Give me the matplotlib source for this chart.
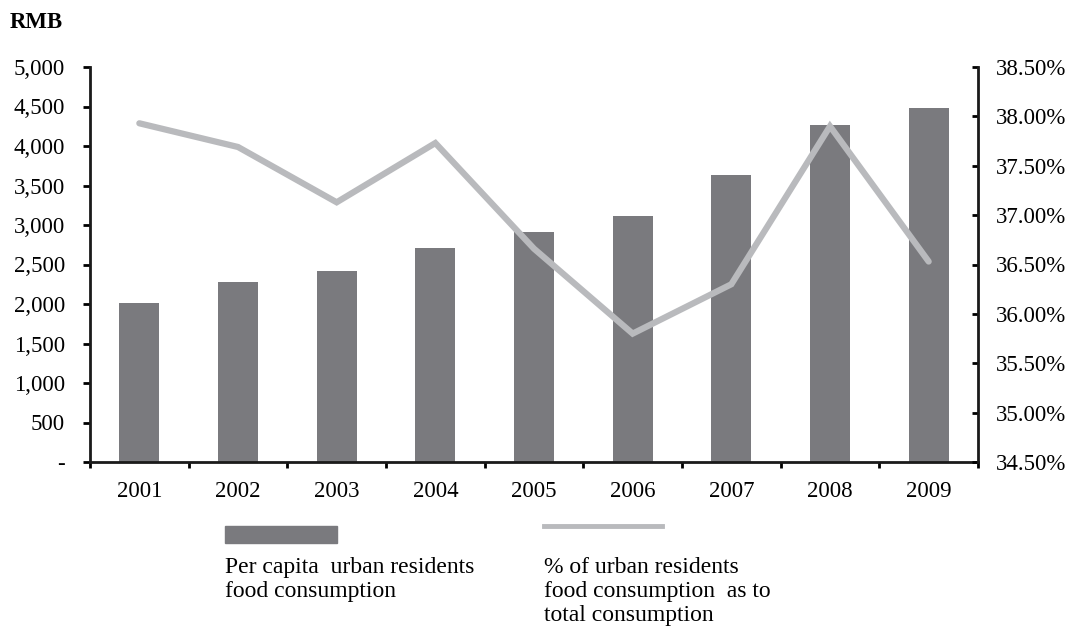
import matplotlib.pyplot as plt
from matplotlib.patches import Rectangle
from matplotlib.lines import Line2D

years = ["2001", "2002", "2003", "2004", "2005", "2006", "2007", "2008", "2009"]
food_rmb = [2018, 2280, 2420, 2712, 2910, 3115, 3630, 4262, 4480]
food_share = [37.93, 37.69, 37.13, 37.73, 36.66, 35.80, 36.30, 37.90, 36.53]

left_ticks = [0, 500, 1000, 1500, 2000, 2500, 3000, 3500, 4000, 4500, 5000]
right_ticks = [34.5, 35.0, 35.5, 36.0, 36.5, 37.0, 37.5, 38.0, 38.5]

bar_color = "#7a7a7e"
line_color = "#b9babd"

plt.rcParams["font.family"] = ["Liberation Serif", "DejaVu Serif"]

fig = plt.figure(figsize=(10.72, 6.32), dpi=100)
ax = fig.add_axes([90 / 1072, 1 - 462 / 632, 888 / 1072, 395 / 632])
ax2 = ax.twinx()

x = range(len(years))
ax.bar(x, food_rmb, width=0.405, color=bar_color, zorder=2)
ax2.plot(x, food_share, color=line_color, lw=4.5, solid_capstyle="round",
         solid_joinstyle="miter")

ax.set_xlim(-0.5, len(years) - 0.5)
ax.set_ylim(0, 5000)
ax2.set_ylim(34.5, 38.5)

ax.set_yticks(left_ticks)
ax.set_yticklabels(["-" if v == 0 else f"{v:,}" for v in left_ticks])
ax2.set_yticks(right_ticks)
ax2.set_yticklabels([f"{v:.2f}%" for v in right_ticks])

# category labels centred, tick marks between categories
ax.set_xticks(list(x))
ax.set_xticklabels(years)
ax.tick_params(axis="x", length=0, labelsize=16.5, pad=14)
ax.set_xticks([i - 0.5 for i in range(len(years) + 1)], minor=True)
ax.tick_params(axis="x", which="minor", length=4.5, width=2, direction="out")
ax.tick_params(axis="y", length=5, width=2, direction="out", labelsize=16.5, pad=13)
ax2.tick_params(axis="y", length=4.5, width=2, direction="in", labelsize=16.5, pad=13)

for a in (ax, ax2):
    a.spines["top"].set_visible(False)
    for s in ("left", "right", "bottom"):
        a.spines[s].set_linewidth(2)
        a.spines[s].set_color("#1a1a1a")
ax.spines["right"].set_visible(False)
ax2.spines["left"].set_visible(False)
ax2.spines["bottom"].set_visible(False)

fig.text(10 / 1072, 1 - 23 / 632, "RMB", fontsize=16.5, fontweight="bold",
         va="center", ha="left")

# legend below the plot
fig.add_artist(Rectangle((225 / 1072, 1 - 543 / 632), 112 / 1072, 17 / 632,
                         transform=fig.transFigure, color=bar_color))
fig.add_artist(Line2D([544 / 1072, 662 / 1072], [1 - 526 / 632, 1 - 526 / 632],
                      transform=fig.transFigure, color=line_color, lw=3.5))
fig.text(225 / 1072, 1 - 557 / 632, "Per capita  urban residents\nfood consumption",
         fontsize=17, va="top", ha="left", linespacing=1.18)
fig.text(544 / 1072, 1 - 557 / 632,
         "% of urban residents\nfood consumption  as to\ntotal consumption",
         fontsize=17, va="top", ha="left", linespacing=1.18)

fig.savefig("out.png", dpi=100)
